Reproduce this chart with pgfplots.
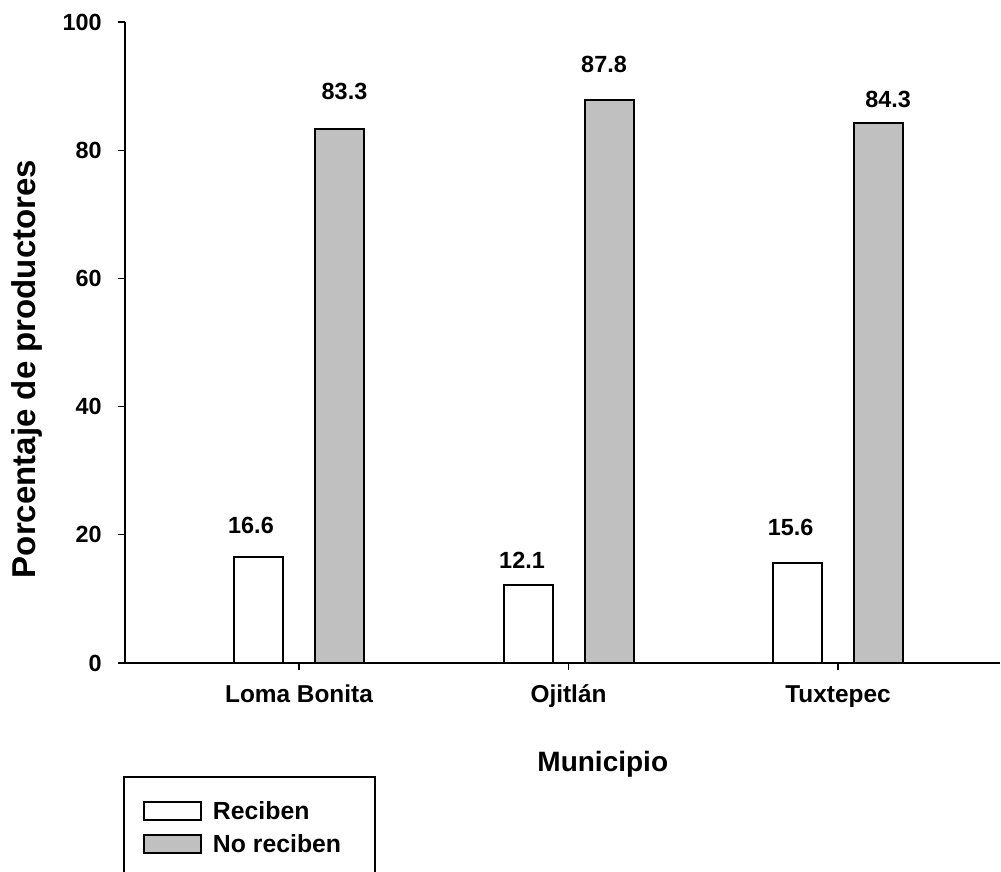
\documentclass[border=0pt]{standalone}
\usepackage{fontspec}
\setmainfont{Liberation Sans}
\usepackage{pgfplots}
\pgfplotsset{compat=1.18}
\usepackage{pgfplotstable}
\definecolor{bargrey}{RGB}{192,192,192}

\pgfplotstableread{
x y dx dy
0 16.6 -3.75 15.8
1 12.1 -3 12.6
2 15.6 -3.5 18
}\reciben
\pgfplotstableread{
x y dx dy
0 83.3 2.5 19
1 87.8 -2.5 17.9
2 84.3 4.75 11.7
}\noreciben

\begin{document}
\begin{tikzpicture}
\useasboundingbox (0,0) rectangle (500.5pt,436pt);
\begin{axis}[
 at={(62.5pt,104.5pt)}, anchor=south west,
 scale only axis, width=437.5pt, height=320.5pt,
 xmin=-0.6456, xmax=2.601, ymin=0, ymax=100,
 axis lines=left, axis line style={-, line width=1pt},
 ybar, bar width=24.5pt,
 xtick={0,1,2}, xticklabels={Loma Bonita, Ojitlán, Tuxtepec},
 ytick={0,20,...,100},
 tick align=outside, major tick length=3.5pt,
 tick style={black, line width=0.6pt},
 /pgf/number format/assume math mode=true,
 yticklabel style={font=\bfseries\fontsize{11.7}{14}\selectfont, anchor=east, inner sep=0pt, xshift=-8pt},
 xticklabel style={font=\bfseries\fontsize{12.2}{14}\selectfont, anchor=base, inner sep=0pt, yshift=-16pt},
 ylabel={Porcentaje de productores},
 ylabel style={at={(axis description cs:-0.1126,0.4587)}, anchor=center, font=\bfseries\fontsize{16.5}{19}\selectfont},
 xlabel={Municipio},
 xlabel style={at={(axis description cs:0.546,-0.170)}, anchor=base, font=\bfseries\fontsize{14}{17}\selectfont},
 nodes near coords={\pgfmathprintnumber[fixed,precision=1,fixed zerofill]{\pgfplotspointmeta}},
 nodes near coords style={font=\bfseries\fontsize{11.7}{14}\selectfont, anchor=center, inner sep=0pt, xshift=\dx, yshift=\dy},
 legend style={at={(axis description cs:-0.0023,-0.1763)}, anchor=north west, draw=black, line width=1pt,
   inner xsep=9.5pt, inner ysep=11.8pt, row sep=6.6pt, column sep=5.5pt,
   font=\bfseries\fontsize{12.4}{14}\selectfont,
   nodes={inner sep=0pt, text height=8.9pt, text depth=0pt}},
 legend cell align=left,
 legend image code/.code={\draw[#1, line width=1pt] (0pt,-4.5pt) rectangle (28.5pt,4.5pt);},
]
\addplot[draw=black, line width=1pt, fill=white, bar shift=-20.25pt,
  visualization depends on={\thisrow{dx} \as \dx},
  visualization depends on={\thisrow{dy} \as \dy}]
  table[x=x, y=y] {\reciben};
\addlegendentry{\makebox[71.6pt][l]{Reciben}}
\addplot[draw=black, line width=1pt, fill=bargrey, bar shift=20.25pt,
  visualization depends on={\thisrow{dx} \as \dx},
  visualization depends on={\thisrow{dy} \as \dy}]
  table[x=x, y=y] {\noreciben};
\addlegendentry{\makebox[71.6pt][l]{No reciben}}
\end{axis}
\end{tikzpicture}
\end{document}
